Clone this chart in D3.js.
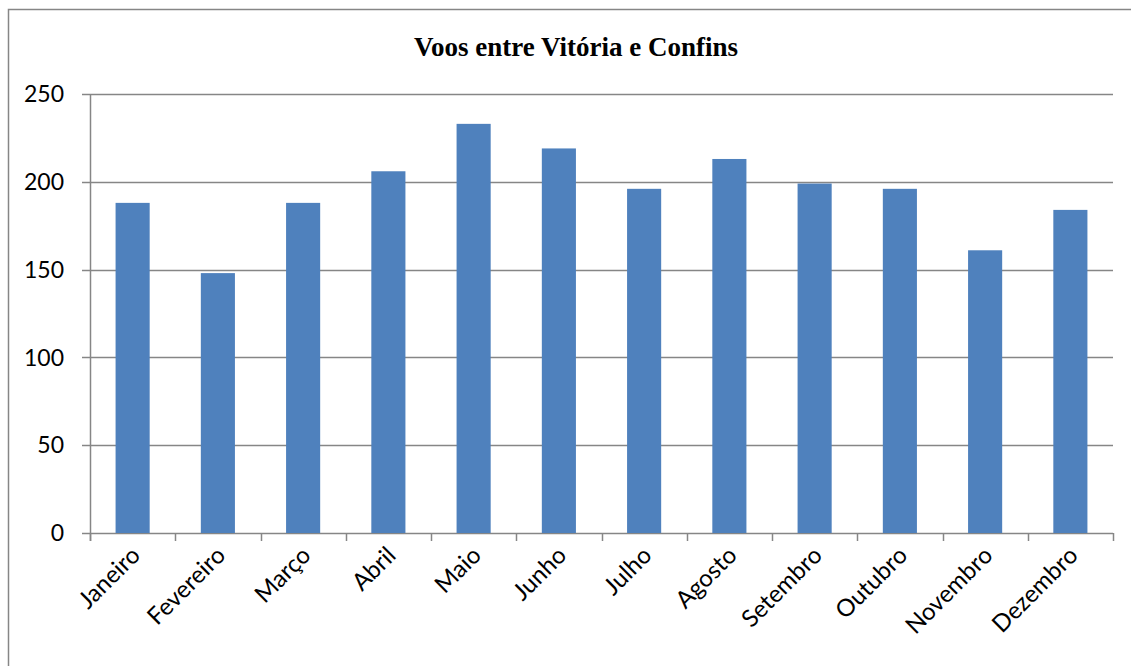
<!DOCTYPE html>
<html>
<head>
<meta charset="utf-8">
<script src="https://cdn.jsdelivr.net/npm/d3@7"></script>
<style>
  body { margin: 0; background: #fff; }
  svg { display: block; }
</style>
</head>
<body>
<div id="vis"></div>
<script>
var months = ['Janeiro', 'Fevereiro', 'Março', 'Abril', 'Maio', 'Junho', 'Julho', 'Agosto', 'Setembro', 'Outubro', 'Novembro', 'Dezembro'];
var flights = [188, 148, 188, 206, 233, 219, 196, 213, 199, 196, 161, 184];
var yTicks = [0, 50, 100, 150, 200, 250];
var title = 'Voos entre Vitória e Confins';

var W = 1131, H = 666;
var margin = {left: 90, right: 18, top: 94, bottom: 133};
var width = W - margin.left - margin.right;
var height = H - margin.top - margin.bottom;

var svg = d3.select('#vis')
    .append('svg')
        .attr('width', W)
        .attr('height', H);

// outer chart border
svg.append('rect')
    .attr('x', 8.5).attr('y', 9.5)
    .attr('width', 1130).attr('height', 670)
    .attr('fill', 'none')
    .attr('stroke', '#868686')
    .attr('stroke-width', 1.5);

svg.append('text')
    .attr('x', 576).attr('y', 56)
    .attr('text-anchor', 'middle')
    .style('font-family', '"Liberation Serif", "Times New Roman", serif')
    .style('font-weight', 'bold')
    .style('font-size', '27px')
    .text(title);

var g = svg.append('g')
    .attr('transform', 'translate(' + margin.left + ',' + margin.top + ')');

var x = d3.scaleBand()
    .domain(months)
    .range([0, width])
    .paddingInner(0.6)
    .paddingOuter(0.3);

var y = d3.scaleLinear()
    .domain([0, 250])
    .range([height, 0]);

// gridlines
g.append('g')
    .selectAll('line')
    .data(yTicks)
    .enter()
    .append('line')
        .attr('x1', -8).attr('x2', width)
        .attr('y1', d => Math.round(y(d)) + 0.5)
        .attr('y2', d => Math.round(y(d)) + 0.5)
        .attr('stroke', '#868686')
        .attr('stroke-width', 1.5);

// y labels
g.append('g')
    .selectAll('text')
    .data(yTicks)
    .enter()
    .append('text')
        .attr('x', -26)
        .attr('y', d => y(d))
        .attr('dy', '0.36em')
        .attr('text-anchor', 'end')
        .style('font-family', 'Lato, "Open Sans", sans-serif')
        .style('font-size', '23px')
        .text(d => d);

// bars
g.append('g')
    .selectAll('rect')
    .data(flights)
    .enter()
    .append('rect')
        .attr('x', (d, i) => x(months[i]))
        .attr('y', d => y(d))
        .attr('width', x.bandwidth())
        .attr('height', d => height - y(d))
        .style('fill', '#4F81BD');

// y axis line
g.append('line')
    .attr('x1', 0.5).attr('x2', 0.5)
    .attr('y1', 0).attr('y2', height + 8)
    .attr('stroke', '#868686')
    .attr('stroke-width', 1.5);

// x ticks at category boundaries
var step = x.step();
g.append('g')
    .selectAll('line')
    .data(d3.range(months.length + 1))
    .enter()
    .append('line')
        .attr('x1', d => Math.round(d * step) + 0.5)
        .attr('x2', d => Math.round(d * step) + 0.5)
        .attr('y1', height)
        .attr('y2', height + 8)
        .attr('stroke', '#868686')
        .attr('stroke-width', 1.5);

// x labels
g.append('g')
    .selectAll('text')
    .data(months)
    .enter()
    .append('text')
        .attr('transform', d => 'translate(' + (x(d) + x.bandwidth() / 2 - 3) + ',' + (height + 12) + ') rotate(-45)')
        .attr('text-anchor', 'end')
        .attr('dy', '0.7em')
        .style('font-family', 'Lato, "Open Sans", sans-serif')
        .style('font-size', '24px')
        .text(d => d);
</script>
</body>
</html>
